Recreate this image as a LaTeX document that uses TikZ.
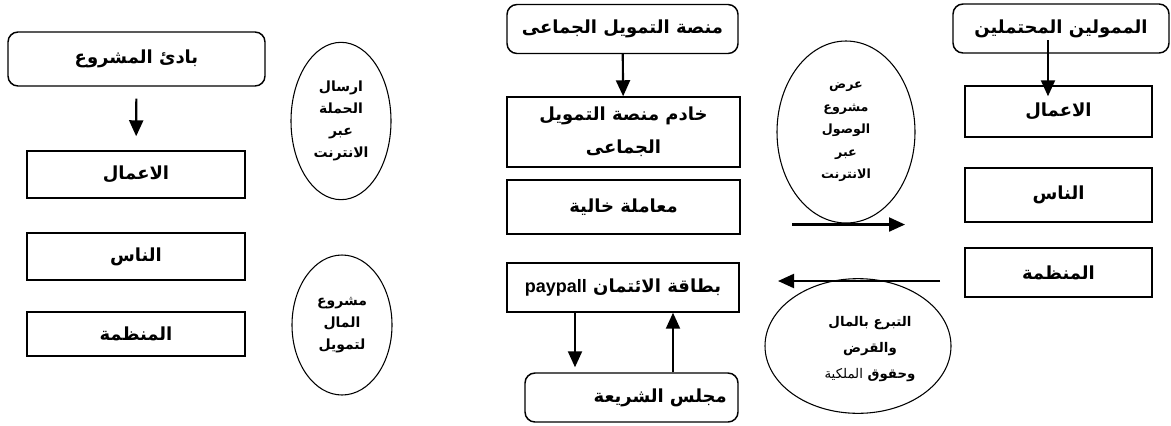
\documentclass[tikz,border=0pt]{standalone}
\usepackage{fontspec}
\usetikzlibrary{arrows.meta,shapes.geometric,calc}
\TeXXeTstate=1
\newfontfamily\arabicfont[Script=Arabic]{DejaVu Sans}
\newfontfamily\latinfont{Liberation Sans}
\newcommand{\rl}[1]{\beginR#1\endR}

\begin{document}
\begin{tikzpicture}[x=0.75pt,y=-0.75pt,
  box/.style={draw, rectangle, line width=1.1pt, inner sep=0pt, align=center,
    font=\arabicfont\bfseries\fontsize{13.5}{16}\selectfont},
  rbox/.style={box, rounded corners=7.5pt},
  oval/.style={draw, ellipse, line width=0.8pt, inner sep=0pt, align=center,
    font=\arabicfont\bfseries\fontsize{10.5}{16.5}\selectfont},
  arr/.style={-{Triangle[length=12pt,width=10.5pt]}, line width=1.6pt}]
\useasboundingbox (0,0) rectangle (1171,425);

% left column
\node[rbox, minimum width=192.75pt, minimum height=40.5pt] (starter) at (136.5,59) {\rl{بادئ المشروع}};
\node[box, minimum width=163.5pt, minimum height=35.25pt] (lwork) at (136,174.5) {\rl{الاعمال}};
\node[box, minimum width=163.5pt, minimum height=35.25pt] (lpeople) at (136,256.5) {\rl{الناس}};
\node[box, minimum width=163.5pt, minimum height=33pt] (lorg) at (136,334) {\rl{المنظمة}};
\draw[arr, shorten <=9pt, shorten >=10.5pt] (starter) -- (lwork);

\node[oval, minimum width=75pt, minimum height=118pt] (campaign) at (341,121)
  {\rl{ارسال}\\\rl{الحملة}\\\rl{عبر}\\\rl{الانترنت}};
\node[oval, minimum width=75pt, minimum height=105pt] (project) at (342,325)
  {\rl{مشروع}\\\rl{المال}\\\rl{لتمويل}};

% middle column
\node[rbox, minimum width=173.25pt, minimum height=36.75pt] (platform) at (622.5,29) {\rl{منصة التمويل الجماعى}};
\node[box, minimum width=174.75pt, minimum height=52.5pt] (server) at (623.5,132)
  {\rl{خادم منصة التمويل}\\[9pt]\rl{الجماعى}};
\node[box, minimum width=174.75pt, minimum height=40.5pt] (txn) at (623.5,207) {\rl{معاملة خالية}};
\node[box, minimum width=174pt, minimum height=36.75pt] (card) at (623,287.5)
  {\rl{بطاقة الائتمان \beginL{\latinfont paypall}\endL}};
\node[rbox, minimum width=159.75pt, minimum height=36.75pt, text width=143pt, align=right] (sharia) at (631.5,397.5) {\rl{مجلس الشريعة}};
\draw[arr] (platform) -- (server);
\draw[arr, shorten >=3.75pt] ($(card.south)+(-48,0)$) -- ($(card.south |- sharia.north)+(-48,0)$);
\draw[arr] ($(sharia.north)+(41.5,0)$) -- ($(card.south)+(50,0)$);

% right side
\node[oval, minimum width=103.5pt, minimum height=136.5pt,
  font=\arabicfont\bfseries\fontsize{9.5}{16.9}\selectfont] (offer) at (846,132)
  {\rl{عرض}\\\rl{مشروع}\\\rl{الوصول}\\\rl{عبر}\\\rl{الانترنت}};
\draw[arr] ($(offer.south)+(-54,1)$) -- ($(offer.south)+(59,1)$);

\node[oval, minimum width=139.5pt, minimum height=101pt] (donate) at (858,346) {};
\node[align=center, inner sep=0pt,
  font=\arabicfont\bfseries\fontsize{10}{19.5}\selectfont] (donatetxt) at (870,349)
  {\rl{التبرع بالمال}\\\rl{والقرض}\\\rl{وحقوق {\mdseries الملكية}}};
\coordinate (backA) at (940,281);
\coordinate (backB) at (778,281);
\draw[arr] (backA) -- (backB);

\node[rbox, minimum width=162pt, minimum height=36.75pt] (investors) at (1061,28.5) {\rl{الممولين المحتملين}};
\node[box, minimum width=140.25pt, minimum height=38.25pt] (rwork) at (1058.5,111.5) {\rl{الاعمال}};
\node[box, minimum width=140.25pt, minimum height=40.5pt] (rpeople) at (1058.5,195) {\rl{الناس}};
\node[box, minimum width=140.25pt, minimum height=36.75pt] (rorg) at (1058.5,272.5) {\rl{المنظمة}};
\draw[arr] ($(investors.center)+(-13,11.5)$) -- ($(rwork.north)+(-10.5,11)$);
\end{tikzpicture}
\end{document}
